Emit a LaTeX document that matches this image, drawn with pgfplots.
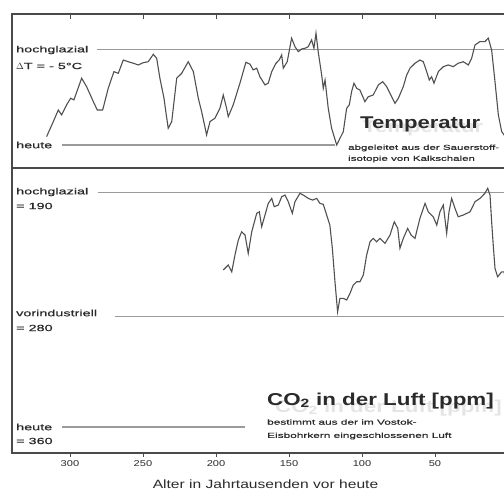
\documentclass[border=0pt]{standalone}
\usepackage{fontspec}
\setmainfont[FakeStretch=1.3]{Liberation Sans}
\newfontfamily\wide[FakeStretch=1.6,FakeBold=0.6]{Liberation Sans}
\usepackage{pgfplots}
\pgfplotsset{compat=1.18}
\definecolor{frame}{HTML}{4A4A4A}
\definecolor{curve}{HTML}{505050}
\definecolor{refl}{HTML}{9A9A9A}
\definecolor{txt}{HTML}{2A2A2A}
\definecolor{ghost}{HTML}{E4E4E4}
\begin{document}
\begin{tikzpicture}
\begin{axis}[at={(12pt,323pt)}, anchor=south west, scale only axis,
  width=510.6pt, height=154pt, x dir=reverse,
  xmin=-10, xmax=339.7, ymin=-1.21, ymax=6.89,
  axis line style={frame, line width=1.4pt},
  xtick={300,250,...,50}, xtick pos=right, tick align=inside,
  major tick length=5pt, tick style={frame, line width=0.8pt},
  xticklabels={}, ytick=\empty]
\addplot[refl, line width=1.1pt] coordinates {(281.5,5) (-10,5)};
\addplot[refl, line width=1.1pt] coordinates {(305.5,0) (118.5,0)};
\addplot[curve, line width=1.1pt] coordinates {
(316,0.44) (311.4,1.23) (308,1.84) (305.7,1.58) (302.3,2.11) (299.5,2.46) (297.3,2.37) (292,3.51) (288.6,3.07) (284,2.28) (281.3,1.84) (277.6,1.84) (273.8,2.98) (269.9,3.86) (266.9,3.77) (263.5,4.47) (260.1,4.38) (256.6,4.30) (253.2,4.21) (249.8,4.33) (246.4,4.38) (242.9,4.77) (240.6,4.56) (238.4,3.51) (235.6,2.46) (234.2,1.67) (232.7,0.88) (230.3,1.23) (226.9,3.51) (223.5,3.77) (219.0,4.38) (215.5,3.86) (212.1,2.46) (209.8,1.75) (206.4,0.53) (204.1,1.23) (200.7,1.41) (197.3,1.93) (195.0,2.63) (192.7,1.93) (191.6,1.49) (188.2,2.11) (183.6,3.25) (179.5,4.35) (176.7,4.25) (174.5,3.95) (172.1,4.04) (169.9,3.59) (166.4,3.16) (164.2,3.25) (161.8,3.86) (158.9,4.30) (156.7,4.47) (155.0,4.74) (153.9,4.04) (151.2,4.38) (148.2,5.62) (145.9,5.17) (143.6,4.91) (141.3,5.05) (139.0,5.09) (136.8,5.17) (134.5,5.53) (132.9,5.09) (131.5,5.88) (130.0,4.91) (127.6,3.68) (126.5,2.98) (125.3,3.42) (123.1,1.93) (120.8,0.88) (117.3,0.00) (115.1,0.35) (112.8,0.70) (110.5,1.93) (108.7,2.11) (107.1,2.81) (105.5,3.25) (103.6,2.98) (101.4,2.89) (98.0,2.28) (95.7,2.54) (92.3,2.63) (88.8,3.16) (85.8,3.33) (83.1,3.07) (79.7,2.54) (77.4,2.19) (75.1,2.46) (71.7,3.07) (69.4,3.68) (67.1,4.04) (63.7,4.30) (60.3,4.47) (58.0,4.38) (55.7,3.86) (53.9,3.42) (52.3,3.59) (50.7,3.25) (47.7,3.86) (44.3,4.12) (40.9,4.21) (37.5,4.12) (34.1,4.30) (30.6,4.38) (27.2,4.21) (24.9,4.56) (22.6,5.26) (19.2,5.44) (15.8,5.44) (13.5,5.62) (11.2,5.00) (8.9,3.33) (6.6,1.58) (4.3,0.70) (2.7,0.53) (0,0.2)};
\end{axis}
\begin{axis}[at={(12pt,38pt)}, anchor=south west, scale only axis,
  width=510.6pt, height=285pt, x dir=reverse, y dir=reverse,
  xmin=-10, xmax=339.7, ymin=172.6, ymax=378.8,
  axis line style={frame, line width=1.4pt},
  xtick={300,250,...,50}, xtick pos=left, tick align=outside,
  major tick length=4pt, tick style={frame, line width=0.8pt},
  ytick=\empty,
  /pgf/number format/assume math mode=true,
  xticklabel style={font=\fontsize{8.5}{9}\selectfont, text=txt}]
\addplot[refl, line width=1.1pt] coordinates {(281,190) (-10,190)};
\addplot[refl, line width=1.1pt] coordinates {(269,280) (-10,280)};
\addplot[refl, line width=1.1pt] coordinates {(305.5,360) (180,360)};
\addplot[curve, line width=1.1pt] coordinates {
(195.0,246.4) (191.6,242.8) (189.2,247.7) (187.0,235.6) (184.7,224.7) (182.4,218.7) (180.1,221.1) (177.9,234.4) (175.5,218.7) (172.1,205.4) (170.3,204.3) (168.7,215.1) (166.4,206.6) (164.2,198.2) (161.8,194.6) (160.1,200.6) (157.3,199.4) (155.0,193.4) (152.7,192.2) (150.5,197.0) (147.7,205.4) (145.9,197.0) (142.5,190.9) (140.2,192.2) (136.8,194.6) (133.8,195.8) (131.0,194.6) (128.8,198.2) (126.5,198.9) (124.2,206.6) (122.0,213.9) (120.3,230.7) (118.5,254.9) (116.7,276.6) (115.1,266.9) (112.8,266.9) (110.5,268.1) (108.2,263.3) (106.0,257.3) (103.6,254.9) (101.4,254.9) (99.1,250.1) (96.8,235.6) (94.5,226.0) (92.3,223.5) (90.0,226.0) (87.7,223.5) (84.2,227.1) (80.8,221.1) (77.9,211.5) (75.5,216.3) (74.0,230.7) (71.7,223.5) (68.7,216.3) (66.4,221.1) (63.7,223.5) (60.3,209.0) (56.8,198.2) (54.6,204.3) (51.2,207.9) (48.8,213.9) (46.6,204.3) (44.3,199.4) (42.0,219.9) (40.4,204.3) (38.6,194.6) (36.3,201.8) (34.1,207.9) (30.6,206.6) (26.0,204.3) (22.6,197.0) (19.2,194.6) (15.8,190.9) (13.9,187.3) (12.3,192.2) (11.2,211.5) (10.1,228.4) (8.9,245.2) (7.1,251.3) (4.3,247.7) (2.7,247.7) (0,262)};
\end{axis}
% labels
\begin{scope}[every node/.style={text=txt, inner sep=0pt, anchor=west}]
\node[font=\wide\fontsize{9}{10}\selectfont] at (16pt,441pt) {hochglazial};
\node[font=\wide\fontsize{9}{10}\selectfont] at (16pt,425pt) {$\Delta$T = - 5°C};
\node[font=\wide\fontsize{9}{10}\selectfont] at (16pt,346pt) {heute};
\node[font=\wide\fontsize{9}{10}\selectfont] at (16pt,299pt) {hochglazial};
\node[font=\wide\fontsize{9}{10}\selectfont] at (16pt,285pt) {= 190};
\node[font=\wide\fontsize{9}{10}\selectfont] at (16pt,178pt) {vorindustriell};
\node[font=\wide\fontsize{9}{10}\selectfont] at (16pt,163pt) {= 280};
\node[font=\wide\fontsize{9}{10}\selectfont] at (16pt,64pt) {heute};
\node[font=\wide\fontsize{9}{10}\selectfont] at (16pt,50pt) {= 360};
\node[font=\wide\fontsize{7.2}{8}\selectfont] at (348pt,343pt) {abgeleitet aus der Sauerstoff-};
\node[font=\wide\fontsize{7.2}{8}\selectfont] at (348pt,332pt) {isotopie von Kalkschalen};
\node[font=\wide\fontsize{7.4}{8}\selectfont] at (267pt,69pt) {bestimmt aus der im Vostok-};
\node[font=\wide\fontsize{7.4}{8}\selectfont] at (267pt,55pt) {Eisbohrkern eingeschlossenen Luft};
\node[font=\bfseries\fontsize{17}{18}\selectfont, text=ghost, anchor=base west] at (363pt,358pt) {Temperatur};
\node[font=\bfseries\fontsize{17}{18}\selectfont, anchor=base west] at (360pt,362pt) {Temperatur};
\node[font=\bfseries\fontsize{17.2}{19}\selectfont, text=ghost, anchor=base west] at (275pt,79pt) {CO\textsubscript{2} in der Luft [ppm]};
\node[font=\bfseries\fontsize{17.2}{19}\selectfont, anchor=base west] at (267pt,86pt) {CO\textsubscript{2} in der Luft [ppm]};
\node[font=\fontsize{12}{13}\selectfont, anchor=center] at (265.5pt,7pt) {Alter in Jahrtausenden vor heute};
\end{scope}
\pgfresetboundingbox
\path[use as bounding box] (0pt,0pt) rectangle (504pt,491pt);
\end{tikzpicture}
\end{document}
